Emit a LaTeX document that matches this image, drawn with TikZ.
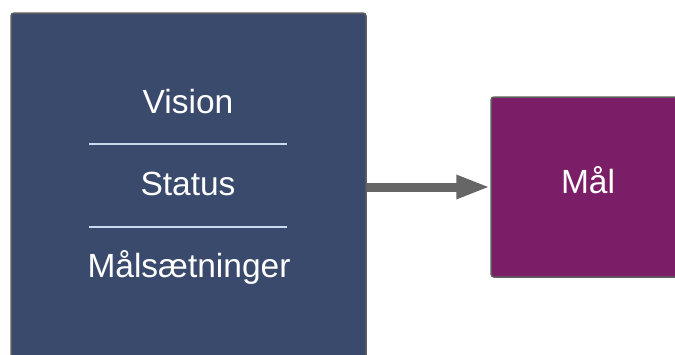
\documentclass[tikz,border=0pt]{standalone}
\usepackage{fontspec}
\setmainfont{Liberation Sans}
\usetikzlibrary{arrows.meta}
\definecolor{navybox}{RGB}{58,74,108}
\definecolor{plumbox}{RGB}{122,30,104}
\definecolor{edgegray}{RGB}{95,95,95}
\definecolor{arrowgray}{RGB}{102,102,102}
\definecolor{seplight}{RGB}{200,218,240}
\tikzset{
  box/.style={draw=edgegray, line width=1.5pt, rounded corners=3pt, inner sep=0pt},
  label/.style={text=white, font=\fontsize{33.5}{38}\selectfont, anchor=base, inner sep=0pt},
  sepline/.style={draw=seplight, line width=1.6pt},
  flow/.style={draw=arrowgray, line width=9pt, -{Triangle[length=34pt,width=22pt]}}
}
\begin{document}
\begin{tikzpicture}[x=1pt,y=-1pt]
\useasboundingbox (0,0) rectangle (675,354);
\clip (0,0) rectangle (675,354);
\fill[white] (0,0) rectangle (675,354);
\node[box, fill=navybox, minimum width=355pt, minimum height=357pt] (left) at (188.5,191.5) {};
\node[box, fill=plumbox, minimum width=194pt, minimum height=180pt] (right) at (588,187) {};
\node[label] (vision) at (188,113) {Vision};
\node[label] (status) at (188,195) {Status};
\node[label] (goals) at (189,277) {Målsætninger};
\node[label] (maal) at (588,193) {Mål};
\coordinate (s1a) at (89,144);
\coordinate (s1b) at (287,144);
\coordinate (s2a) at (89,227);
\coordinate (s2b) at (287,227);
\draw[sepline] (s1a) -- (s1b);
\draw[sepline] (s2a) -- (s2b);
\coordinate (astart) at (366.5,187);
\draw[flow] (astart) -- (right.west);
\end{tikzpicture}
\end{document}
